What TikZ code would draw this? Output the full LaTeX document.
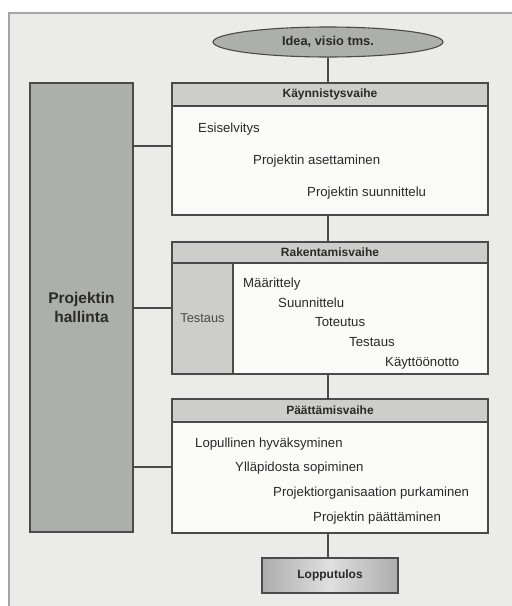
\documentclass[tikz,border=0pt]{standalone}
\usepackage{fontspec}
\setmainfont{Liberation Sans}
\usetikzlibrary{shapes.geometric}
\definecolor{bgc}{HTML}{EBEBEA}
\definecolor{boxc}{HTML}{FAFAF9}
\definecolor{headc}{HTML}{CDCDCB}
\definecolor{darkc}{HTML}{ADAFAC}
\definecolor{linec}{HTML}{4A4A4A}
\definecolor{txtc}{HTML}{2A2A2A}
\tikzset{
  phasebox/.style={draw=linec, line width=1.1pt, fill=boxc, minimum width=316pt, inner sep=0pt},
  headbox/.style={draw=linec, line width=1.1pt, fill=headc, minimum width=316pt, inner sep=0pt, font=\fontsize{12}{14}\selectfont\bfseries, text=txtc},
  item/.style={anchor=base west, inner sep=0pt, font=\fontsize{13.2}{15}\selectfont, text=txtc},
  conn/.style={draw=linec, line width=2pt},
}
\begin{document}
\begin{tikzpicture}[x=1pt,y=-1pt]
\useasboundingbox (0,0) rectangle (512,606);
\clip (0,0) rectangle (512,606);
\fill[white] (0,0) rectangle (512,606);
\draw[draw=gray!70, line width=1.5pt, fill=bgc] (9,13) rectangle (530,630);
% project management
\node[draw=linec, line width=1.1pt, fill=darkc, minimum width=103pt, minimum height=449pt, inner sep=0pt,
  font=\fontsize{15.5}{18}\selectfont\bfseries, text=txtc, align=center] (hal) at (81.5,307.5) {Projektin\\[1pt]hallinta};
% idea
\node[ellipse, draw=linec, line width=1.1pt, fill=darkc, minimum width=230pt, minimum height=30pt, inner sep=0pt,
  font=\fontsize{12.8}{14}\selectfont\bfseries, text=txtc] (idea) at (328,42) {Idea, visio tms.};
% phase 1
\node[phasebox, minimum height=132pt] (k1) at (330,149) {};
\node[headbox, minimum height=23pt] (k1h) at (330,94.5) {Käynnistysvaihe};
\node[item] (k1a) at (198,132.5) {Esiselvitys};
\node[item] (k1b) at (253,164.5) {Projektin asettaminen};
\node[item] (k1c) at (307,196.5) {Projektin suunnittelu};
% phase 2
\node[phasebox, minimum height=132pt] (r) at (330,308) {};
\node[headbox, minimum height=21pt] (rh) at (330,252.5) {Rakentamisvaihe};
\node[draw=linec, line width=1.1pt, fill=headc, minimum width=61pt, minimum height=111pt, inner sep=0pt,
  font=\fontsize{12.8}{14}\selectfont, text=txtc!85] (rt) at (202.5,318.5) {Testaus};
\node[item] (ra) at (243,287.5) {Määrittely};
\node[item] (rb) at (278,307.5) {Suunnittelu};
\node[item] (rc) at (315,326.5) {Toteutus};
\node[item] (rd) at (349,346.5) {Testaus};
\node[item] (re) at (385,366.5) {Käyttöönotto};
% phase 3
\node[phasebox, minimum height=134pt] (p) at (330,466) {};
\node[headbox, minimum height=23pt] (ph) at (330,410.5) {Päättämisvaihe};
\node[item] (pa) at (195,447.5) {Lopullinen hyväksyminen};
\node[item] (pb) at (235,471.5) {Ylläpidosta sopiminen};
\node[item] (pc) at (273,496.5) {Projektiorganisaation purkaminen};
\node[item] (pd) at (313,521.5) {Projektin päättäminen};
% result
\node[draw=linec, line width=1.1pt, left color=gray!65, right color=gray!65, middle color=gray!25,
  minimum width=136pt, minimum height=35pt, inner sep=0pt,
  font=\fontsize{12}{14}\selectfont\bfseries, text=txtc] (lop) at (330,575.5) {Lopputulos};
% connectors
\draw[conn] (idea.south) -- (idea.south |- k1h.north);
\draw[conn] (idea.south |- k1.south) -- (idea.south |- rh.north);
\draw[conn] (idea.south |- r.south) -- (idea.south |- ph.north);
\draw[conn] (idea.south |- p.south) -- (idea.south |- lop.north);
\draw[conn] (hal.east |- 0,146) -- (k1.west |- 0,146);
\draw[conn] (hal.east |- r.west) -- (r.west);
\draw[conn] (hal.east |- 0,467) -- (p.west |- 0,467);
\end{tikzpicture}
\end{document}
